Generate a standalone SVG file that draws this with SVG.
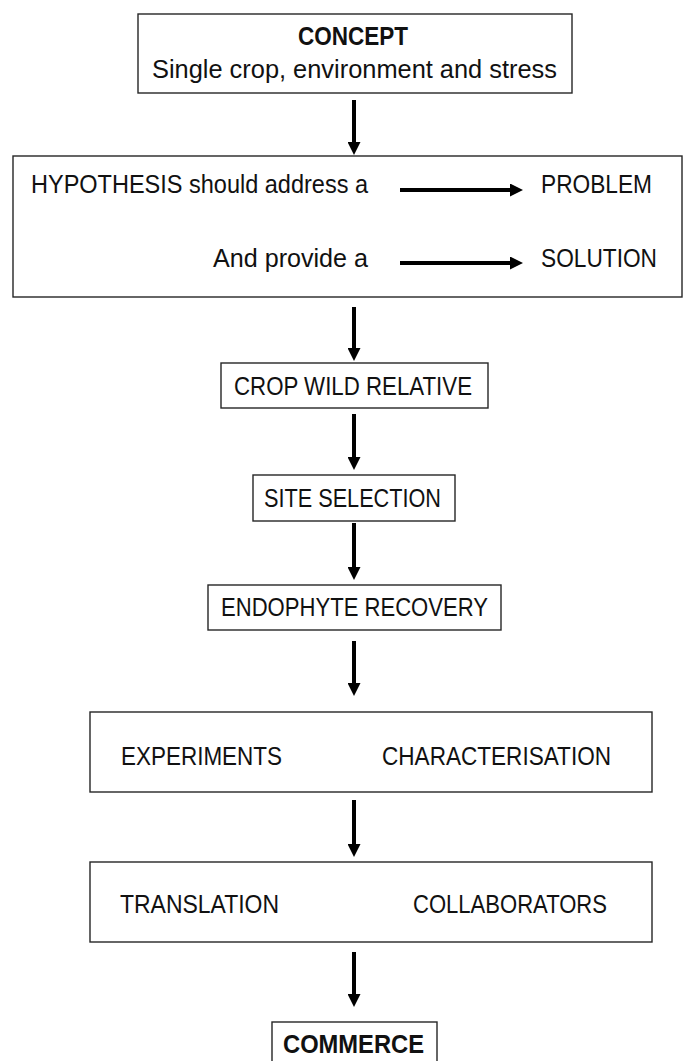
<svg xmlns="http://www.w3.org/2000/svg" width="683" height="1061" viewBox="0 0 683 1061">
<defs>
<style>
.box{fill:#fff;stroke:#262626;stroke-width:1.4}
.t{font-family:"Liberation Sans",Arial,sans-serif;font-size:25px;fill:#111}
.b{font-weight:bold}
.c{stroke:#000;stroke-width:4;fill:none}
</style>
<marker id="ah" viewBox="0 0 13 13" refX="1" refY="6.5" markerWidth="13" markerHeight="13" markerUnits="userSpaceOnUse" orient="auto">
<path d="M0,0 L13,6.5 L0,13 z" fill="#000"/>
</marker>
</defs>
<rect width="683" height="1061" fill="#fff"/>
<g id="concept">
<rect class="box" x="138" y="14" width="434" height="79"/>
<text class="t b" x="298" y="45" textLength="110" lengthAdjust="spacingAndGlyphs">CONCEPT</text>
<text class="t" x="152" y="78" textLength="405" lengthAdjust="spacingAndGlyphs">Single crop, environment and stress</text>
</g>
<g id="hypothesis">
<rect class="box" x="13" y="156" width="669" height="141"/>
<text class="t" x="31" y="193" textLength="337" lengthAdjust="spacingAndGlyphs">HYPOTHESIS should address a</text>
<text class="t" x="541" y="193" textLength="111" lengthAdjust="spacingAndGlyphs">PROBLEM</text>
<text class="t" x="213" y="267" textLength="155" lengthAdjust="spacingAndGlyphs">And provide a</text>
<text class="t" x="541" y="267" textLength="116" lengthAdjust="spacingAndGlyphs">SOLUTION</text>
</g>
<g id="cwr">
<rect class="box" x="221" y="363" width="267" height="45"/>
<text class="t" x="234" y="395" textLength="238" lengthAdjust="spacingAndGlyphs">CROP WILD RELATIVE</text>
</g>
<g id="site">
<rect class="box" x="253" y="475" width="202" height="46"/>
<text class="t" x="264" y="507" textLength="177" lengthAdjust="spacingAndGlyphs">SITE SELECTION</text>
</g>
<g id="endophyte">
<rect class="box" x="208" y="585" width="293" height="45"/>
<text class="t" x="221" y="616" textLength="267" lengthAdjust="spacingAndGlyphs">ENDOPHYTE RECOVERY</text>
</g>
<g id="experiments">
<rect class="box" x="90" y="712" width="562" height="80"/>
<text class="t" x="121" y="765" textLength="161" lengthAdjust="spacingAndGlyphs">EXPERIMENTS</text>
<text class="t" x="382" y="765" textLength="229" lengthAdjust="spacingAndGlyphs">CHARACTERISATION</text>
</g>
<g id="translation">
<rect class="box" x="90" y="862" width="562" height="80"/>
<text class="t" x="120" y="913" textLength="159" lengthAdjust="spacingAndGlyphs">TRANSLATION</text>
<text class="t" x="413" y="913" textLength="194" lengthAdjust="spacingAndGlyphs">COLLABORATORS</text>
</g>
<g id="commerce">
<rect class="box" x="272" y="1022" width="165" height="50"/>
<text class="t b" x="283" y="1053" textLength="141" lengthAdjust="spacingAndGlyphs">COMMERCE</text>
</g>
<g id="connectors">
<line class="c" x1="354" y1="100" x2="354" y2="143" marker-end="url(#ah)"/>
<line class="c" x1="354" y1="307" x2="354" y2="349" marker-end="url(#ah)"/>
<line class="c" x1="354" y1="414" x2="354" y2="458" marker-end="url(#ah)"/>
<line class="c" x1="354" y1="523" x2="354" y2="568" marker-end="url(#ah)"/>
<line class="c" x1="354" y1="641" x2="354" y2="684" marker-end="url(#ah)"/>
<line class="c" x1="354" y1="800" x2="354" y2="845" marker-end="url(#ah)"/>
<line class="c" x1="354" y1="952" x2="354" y2="995" marker-end="url(#ah)"/>
<line class="c" x1="400" y1="190" x2="511" y2="190" marker-end="url(#ah)"/>
<line class="c" x1="400" y1="263" x2="511" y2="263" marker-end="url(#ah)"/>
</g>
</svg>
